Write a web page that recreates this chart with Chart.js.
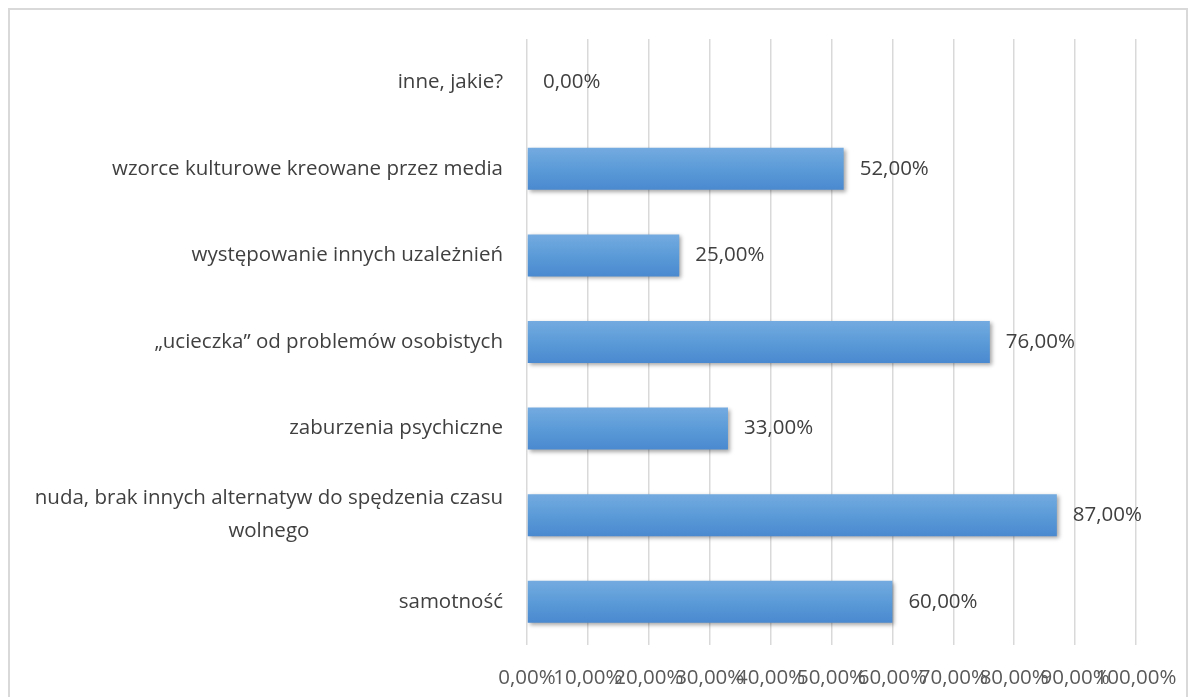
<!DOCTYPE html>
<html>
<head>
<meta charset="utf-8">
<script src="https://cdn.jsdelivr.net/npm/chart.js@4.4.1/dist/chart.umd.min.js"></script>
<style>
  html, body { margin: 0; padding: 0; background: #fff; }
  #frame { position: absolute; left: 8px; top: 8px; width: 1176px; height: 720px; border: 2px solid #d9d9d9; }
  #wrap { position: absolute; left: 0; top: 0; width: 1194px; height: 697px; }
</style>
</head>
<body>
<div id="frame"></div>
<div id="wrap"><canvas id="chart"></canvas></div>
<script>
// Przyczyny uzależnień — poziomy wykres słupkowy
(function () {
    "use strict";

    // --- Data -----------------------------------------------------------
    const categories = [
        "inne, jakie?",
        "wzorce kulturowe kreowane przez media",
        "występowanie innych uzależnień",
        "„ucieczka” od problemów osobistych",
        "zaburzenia psychiczne",
        ["nuda, brak innych alternatyw do spędzenia czasu", "wolnego"],
        "samotność"
    ];
    const shares = [0.00, 0.52, 0.25, 0.76, 0.33, 0.87, 0.60];
    const xTicks = [0, 0.1, 0.2, 0.3, 0.4, 0.5, 0.6, 0.7, 0.8, 0.9, 1.0];

    const FONT = "'Open Sans', sans-serif";
    const SIZE = 20.5;
    const TEXT = "#404040";

    function pct(v) {
        return (v * 100).toFixed(2).replace(".", ",") + "%";
    }

    // gradient per bar (lighter on top, like the Excel preset)
    function barFill(ctx) {
        const chart = ctx.chart;
        const y = chart.scales.y;
        if (!chart.chartArea || !y || ctx.dataIndex === undefined) return "#5b9bd5";
        const c = y.getPixelForValue(ctx.dataIndex);
        const h = 21;
        const g = chart.ctx.createLinearGradient(0, c - h, 0, c + h);
        g.addColorStop(0, "#74abe0");
        g.addColorStop(0.5, "#5b9bd8");
        g.addColorStop(1, "#4a89cf");
        return g;
    }

    // soft shadow under the bars
    const barShadow = {
        id: "barShadow",
        beforeDatasetsDraw(chart) {
            const c = chart.ctx;
            c.save();
            c.shadowColor = "rgba(0,0,0,0.35)";
            c.shadowBlur = 4;
            c.shadowOffsetX = 2;
            c.shadowOffsetY = 2;
        },
        afterDatasetsDraw(chart) {
            chart.ctx.restore();
        }
    };

    // category labels: block right-aligned, lines centred inside the block
    const catLabels = {
        id: "catLabels",
        afterDraw(chart) {
            const c = chart.ctx;
            const y = chart.scales.y;
            const right = chart.chartArea.left - 24;
            c.save();
            c.font = SIZE + "px " + FONT;
            c.fillStyle = TEXT;
            c.textBaseline = "middle";
            categories.forEach((lab, i) => {
                const lines = Array.isArray(lab) ? lab : [lab];
                const w = Math.max(...lines.map(l => c.measureText(l).width));
                const cx = right - w / 2;
                const cy = y.getPixelForValue(i);
                c.textAlign = "center";
                lines.forEach((l, k) => {
                    c.fillText(l, cx, cy + (k - (lines.length - 1) / 2) * 33);
                });
            });
            c.restore();
        }
    };

    // value labels to the right of each bar
    const valueLabels = {
        id: "valueLabels",
        afterDatasetsDraw(chart) {
            const c = chart.ctx;
            const meta = chart.getDatasetMeta(0);
            c.save();
            c.font = SIZE + "px " + FONT;
            c.fillStyle = TEXT;
            c.textAlign = "left";
            c.textBaseline = "middle";
            meta.data.forEach((bar, i) => {
                c.fillText(pct(shares[i]), bar.x + 16, bar.y);
            });
            c.restore();
        }
    };

    new Chart(document.getElementById("chart"), {
        type: "bar",
        data: {
            labels: categories,
            datasets: [{
                data: shares,
                backgroundColor: barFill,
                borderWidth: 0,
                barPercentage: 0.485,
                categoryPercentage: 1
            }]
        },
        options: {
            indexAxis: "y",
            responsive: true,
            maintainAspectRatio: false,
            animation: false,
            layout: { padding: { top: 39, right: 58, bottom: 0, left: 0 } },
            scales: {
                x: {
                    min: 0,
                    max: 1,
                    afterBuildTicks: s => { s.ticks = xTicks.map(v => ({ value: v })); },
                    afterFit: s => { s.height = 52; s.paddingLeft = 0; s.paddingRight = 0; },
                    ticks: {
                        autoSkip: false,
                        maxRotation: 0,
                        padding: 21,
                        color: "#595959",
                        font: { family: FONT, size: SIZE },
                        callback: v => pct(v)
                    },
                    grid: { color: "#d9d9d9", lineWidth: 1.5, drawTicks: false },
                    border: { display: false }
                },
                y: {
                    afterFit: s => { s.width = 527; },
                    ticks: { color: "rgba(0,0,0,0)", font: { family: FONT, size: SIZE } },
                    grid: { display: false },
                    border: { display: false }
                }
            },
            plugins: {
                legend: { display: false },
                tooltip: { enabled: false }
            }
        },
        plugins: [barShadow, catLabels, valueLabels]
    });
})();
</script>
</body>
</html>
